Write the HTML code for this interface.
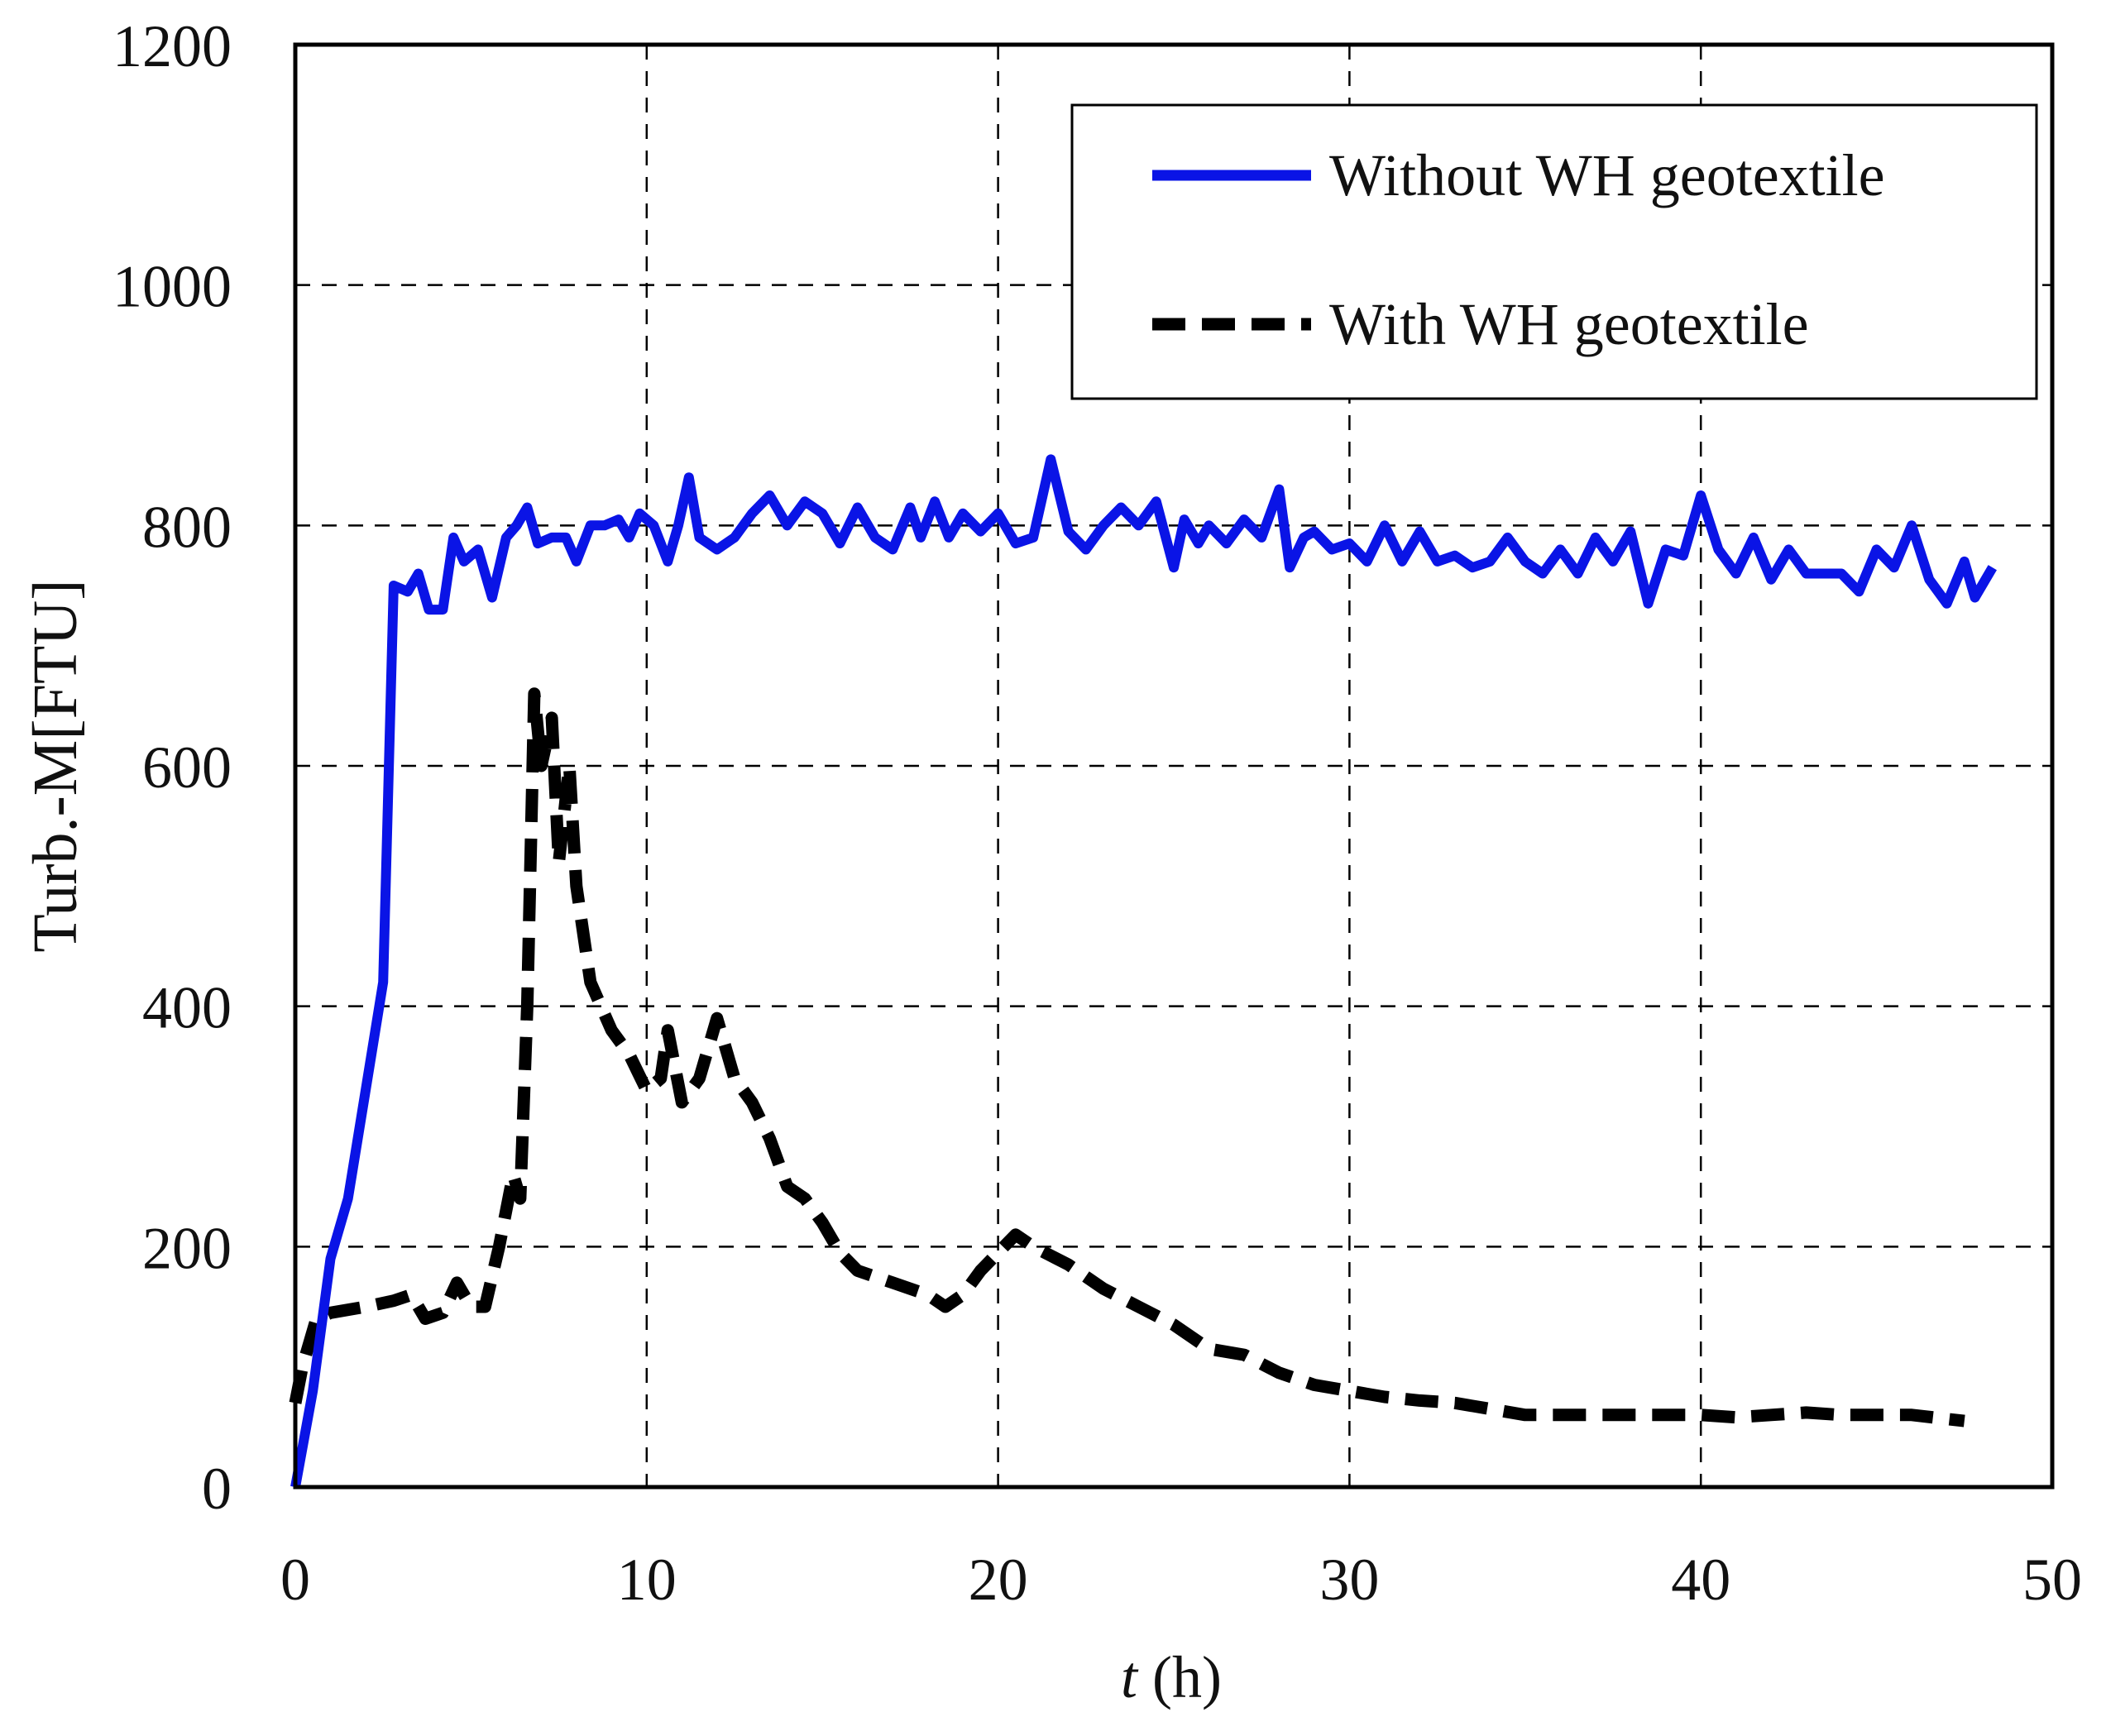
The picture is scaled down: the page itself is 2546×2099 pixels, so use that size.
<!DOCTYPE html>
<html><head><meta charset="utf-8"><style>
html,body{margin:0;padding:0;background:#fff}
text{font-family:"Liberation Serif",serif;fill:#111}
</style></head><body>
<svg id="chart" width="2546" height="2094" xmlns="http://www.w3.org/2000/svg">
<g id="grid"></g>
<g id="series"></g>
<rect x="357" y="54" width="2124" height="1744" fill="none" stroke="#000" stroke-width="5"/>
<g id="ticks"></g>
<text x="0" y="0" font-size="76" text-anchor="middle" transform="translate(92,926) rotate(-90)">Turb.-M[FTU]</text>
<text x="1416" y="2052" font-size="72" text-anchor="middle"><tspan font-style="italic">t</tspan> (h)</text>
<g>
<rect x="1296" y="127" width="1166" height="355" fill="#fff" stroke="#000" stroke-width="3"/>
<line x1="1393" y1="212" x2="1585" y2="212" stroke="#0a14e6" stroke-width="13"/>
<text x="1607" y="236" font-size="72">Without WH geotextile</text>
<line x1="1393" y1="392" x2="1585" y2="392" stroke="#000" stroke-width="15" stroke-dasharray="40,20"/>
<text x="1607" y="416" font-size="72">With WH geotextile</text>
</g>
</svg>
<script>
const xTicks=[0,10,20,30,40,50];
const yTicks=[0,200,400,600,800,1000,1200];
const withoutT=[0,0.5,1,1.5,2,2.5,2.8,3.2,3.5,3.8,4.2,4.5,4.8,5.2,5.6,6,6.3,6.6,6.9,7.3,7.7,8,8.4,8.8,9.2,9.5,9.8,10.2,10.6,10.9,11.2,11.5,12,12.5,13,13.5,14,14.5,15,15.5,16,16.5,17,17.5,17.8,18.2,18.6,19,19.5,20,20.5,21,21.5,22,22.5,23,23.5,24,24.5,25,25.3,25.7,26,26.5,27,27.5,28,28.3,28.7,29,29.5,30,30.5,31,31.5,32,32.5,33,33.5,34,34.5,35,35.5,36,36.5,37,37.5,38,38.5,39,39.5,40,40.5,41,41.5,42,42.5,43,43.5,44,44.5,45,45.5,46,46.5,47,47.5,47.8,48.3];
const withoutV=[0,80,190,240,330,420,750,745,760,730,730,790,770,780,740,790,800,815,785,790,790,770,800,800,805,790,810,800,770,800,840,790,780,790,810,825,800,820,810,785,815,790,780,815,790,820,790,810,795,810,785,790,855,795,780,800,815,800,820,765,805,785,800,785,805,790,830,765,790,795,780,785,770,800,770,795,770,775,765,770,790,770,760,780,760,790,770,795,735,780,775,825,780,760,790,755,780,760,760,760,745,780,765,800,755,735,770,740,765];
const withT=[0,0.2,0.6,1,2,2.8,3.3,3.7,4.2,4.6,5,5.4,5.8,6.2,6.4,6.6,6.8,7,7.3,7.5,7.8,8,8.4,9,9.5,10,10.4,10.6,11,11.5,12,12.5,13,13.5,14,14.5,15,15.5,16,17,18,18.5,19,19.5,20,20.5,21,22,23,24,25,26,27,28,29,30,31,32,33,34,35,36,38,40,41,42,43,44,46,47.5];
const withV=[70,100,140,145,150,155,160,140,145,170,150,150,200,260,240,400,660,600,640,520,600,500,420,380,360,330,340,380,320,340,390,340,320,290,250,240,220,195,180,170,160,150,160,180,195,210,200,185,165,150,135,115,110,95,85,80,75,72,70,65,60,60,60,60,58,60,62,60,60,55];
const X0=357,X1=2481,Y0=1798,Y1=54;
const sx=t=>X0+(t-0)/(50-0)*(X1-X0);
const sy=v=>Y0-(v-0)/(1200-0)*(Y0-Y1);
const NS='http://www.w3.org/2000/svg';
const grid=document.getElementById('grid'),ticks=document.getElementById('ticks'),ser=document.getElementById('series');
xTicks.forEach(t=>{
 if(t>0&&t<50){const l=document.createElementNS(NS,'line');
 
 
 l.setAttribute('x1',sx(t));l.setAttribute('x2',sx(t));l.setAttribute('y1',Y1);l.setAttribute('y2',Y0);
 l.setAttribute('stroke','#000');l.setAttribute('stroke-width','2.5');l.setAttribute('stroke-dasharray','18,14');grid.appendChild(l);}
 const tx=document.createElementNS(NS,'text');
 
 
 tx.setAttribute('x',sx(t));tx.setAttribute('y',1934);tx.setAttribute('font-size','72');tx.setAttribute('text-anchor','middle');tx.textContent=t;ticks.appendChild(tx);
});
yTicks.forEach(v=>{
 if(v>0&&v<1200){const l=document.createElementNS(NS,'line');
 
 
 l.setAttribute('x1',X0);l.setAttribute('x2',X1);l.setAttribute('y1',sy(v));l.setAttribute('y2',sy(v));
 l.setAttribute('stroke','#000');l.setAttribute('stroke-width','2.5');l.setAttribute('stroke-dasharray','18,14');grid.appendChild(l);}
 const tx=document.createElementNS(NS,'text');
 
 
 tx.setAttribute('x',280);tx.setAttribute('y',sy(v)+26);tx.setAttribute('font-size','72');tx.setAttribute('text-anchor','end');tx.textContent=v;ticks.appendChild(tx);
});
function line(T,V,name,color,w,dash){
 const p=document.createElementNS(NS,'path');
 
 
 p.setAttribute('d',T.map((t,i)=>(i?'L':'M')+sx(t).toFixed(1)+','+sy(V[i]).toFixed(1)).join(''));
 p.setAttribute('fill','none');p.setAttribute('stroke',color);p.setAttribute('stroke-width',w);p.setAttribute('stroke-linejoin','round');
 if(dash)p.setAttribute('stroke-dasharray',dash);
 ser.appendChild(p);
}
line(withT,withV,'series-with-geotextile','#000',15,'40,20');
line(withoutT,withoutV,'series-without-geotextile','#0a14e6',12,null);
</script>
</body></html>
